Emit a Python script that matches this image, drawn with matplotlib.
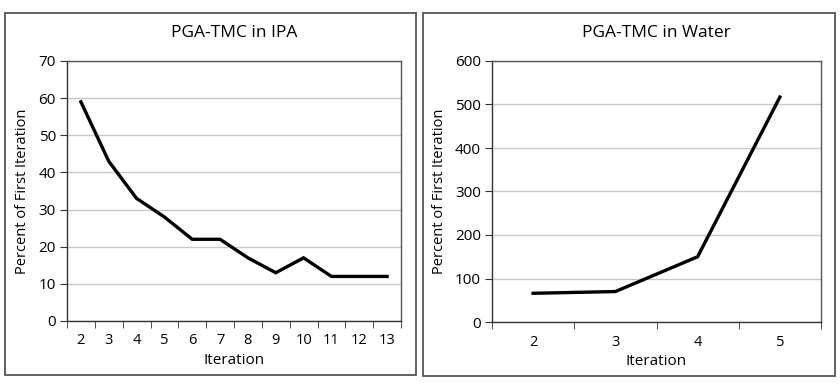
import matplotlib.pyplot as plt
from matplotlib.patches import Rectangle

plt.rcParams['font.family'] = ['Open Sans', 'DejaVu Sans']

# data
ipa_iter = [2, 3, 4, 5, 6, 7, 8, 9, 10, 11, 12, 13]
ipa_pct = [59, 43, 33, 28, 22, 22, 17, 13, 17, 12, 12, 12]
water_iter = [2, 3, 4, 5]
water_pct = [66, 70, 150, 517]

W, H = 840, 388
fig = plt.figure(figsize=(W / 100, H / 100), dpi=100)


def frac(x0, y0, x1, y1):
    # pixel box -> figure fraction [left, bottom, width, height]
    return [x0 / W, 1 - y1 / H, (x1 - x0) / W, (y1 - y0) / H]


def panel(box, frame, cats, vals, ymax, ystep, title):
    fig.patches.append(Rectangle(frac(*frame)[:2], *frac(*frame)[2:],
                                 transform=fig.transFigure, fill=False,
                                 edgecolor='#555555', linewidth=1.3))
    ax = fig.add_axes(frac(*box))
    pos = list(range(len(cats)))
    ax.plot(pos, vals, color='black', linewidth=2.4, solid_joinstyle='miter')
    ax.set_xlim(-0.5, len(cats) - 0.5)
    ax.set_ylim(0, ymax)
    ax.set_yticks(range(0, ymax + 1, ystep))
    ax.set_xticks(pos)
    ax.set_xticklabels([str(c) for c in cats])
    ax.set_xticks([p - 0.5 for p in pos] + [len(cats) - 0.5], minor=True)
    ax.tick_params(axis='x', which='major', length=0, pad=9, labelsize=10.5)
    ax.tick_params(axis='x', which='minor', length=5, direction='out', color='#333333')
    ax.tick_params(axis='y', length=5, direction='out', color='#333333', labelsize=11, pad=3)
    ax.grid(axis='y', color='#c8c8c8', linewidth=1)
    ax.set_axisbelow(True)
    for s in ax.spines.values():
        s.set_color('#555555')
        s.set_linewidth(1)
    ax.spines['left'].set_color('#333333')
    ax.spines['bottom'].set_color('#333333')
    ax.set_xlabel('Iteration', fontsize=11, labelpad=3)
    ax.set_ylabel('Percent of First Iteration', fontsize=10.5, labelpad=6)
    ax.set_title(title, fontsize=12.5, pad=17)
    return ax


panel((67, 61, 401, 321), (5, 13, 416, 375), ipa_iter, ipa_pct, 70, 10, 'PGA-TMC in IPA')
panel((492, 61, 821, 322), (423, 13, 835, 376), water_iter, water_pct, 600, 100, 'PGA-TMC in Water')

fig.savefig('out.png', dpi=100)
